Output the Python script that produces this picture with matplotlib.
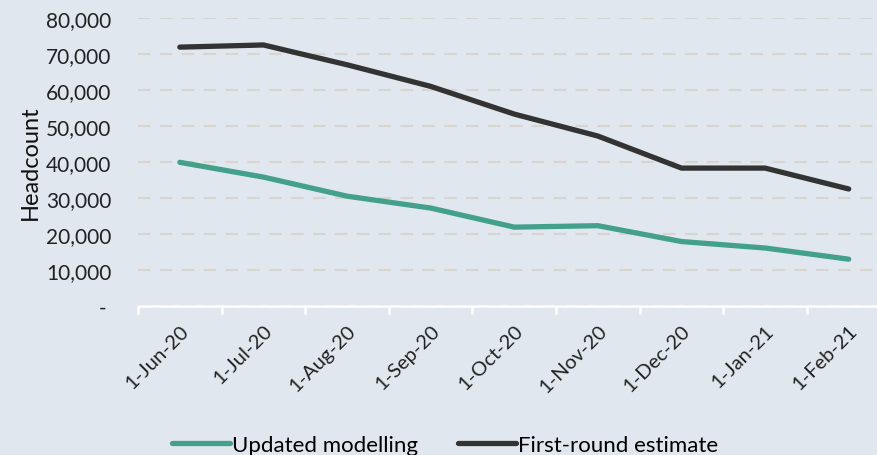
import matplotlib.pyplot as plt
from matplotlib.ticker import FuncFormatter, FixedLocator

plt.rcParams['font.family'] = ['Lato', 'DejaVu Sans']

months = ['1-Jun-20', '1-Jul-20', '1-Aug-20', '1-Sep-20', '1-Oct-20',
          '1-Nov-20', '1-Dec-20', '1-Jan-21', '1-Feb-21']
updated = [39900, 35800, 30500, 27200, 21900, 22300, 17900, 16100, 13000]
first_round = [71900, 72500, 67000, 61000, 53300, 47200, 38300, 38300, 32500]

bg = '#e1e7ee'
fig = plt.figure(figsize=(8.77, 4.56), dpi=100, facecolor=bg)
ax = fig.add_axes([0.1574, 0.3268, 0.858, 0.6316], facecolor=bg)

x = list(range(len(months)))
ax.plot(x, updated, color='#42a08b', lw=3.8, solid_capstyle='round',
        solid_joinstyle='round', label='Updated modelling')
ax.plot(x, first_round, color='#333333', lw=3.8, solid_capstyle='round',
        solid_joinstyle='round', label='First-round estimate')

ax.set_xlim(-0.5, len(months) - 0.5)
ax.set_ylim(0, 80000)
ax.set_yticks(range(0, 80001, 10000))
ax.yaxis.set_major_formatter(FuncFormatter(
    lambda v, p: '- ' if v == 0 else f'{int(v):,}'))
ax.grid(axis='y', color='#d8d5d0', lw=1.5, ls=(0, (6, 4.5)))
ax.set_axisbelow(True)

ax.set_xticks(x)
ax.set_xticklabels(months, rotation=45, ha='right', va='top',
                   rotation_mode='anchor', fontsize=14.5, color='#222222')
ax.xaxis.set_minor_locator(FixedLocator([i - 0.5 for i in range(len(months) + 1)]))
ax.tick_params(axis='x', which='major', length=0, pad=11)
ax.tick_params(axis='x', which='minor', length=6, width=1.8, color='white')
ax.tick_params(axis='y', length=0, pad=19, labelsize=15, labelcolor='#222222')

for s in ['top', 'right', 'left']:
    ax.spines[s].set_visible(False)
ax.spines['bottom'].set_color('white')
ax.spines['bottom'].set_linewidth(1.8)

ax.set_ylabel('Headcount', fontsize=17, color='#111111', labelpad=4)

fig.legend(loc='center', bbox_to_anchor=(0.508, 0.022), ncol=2, frameon=False,
           fontsize=16, handlelength=2.6, handletextpad=0.1, columnspacing=1.8)

fig.savefig('out.png', dpi=100, facecolor=bg)
